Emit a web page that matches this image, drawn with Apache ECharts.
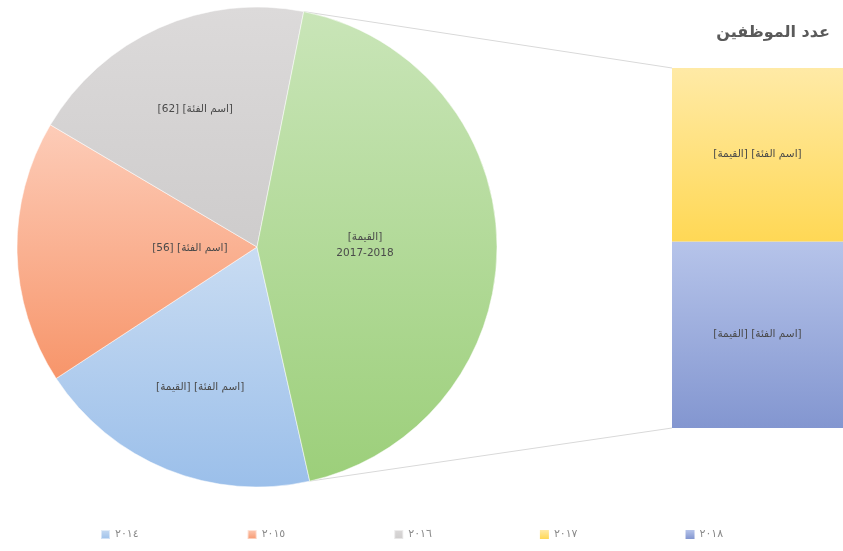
<!DOCTYPE html>
<html dir="rtl">
<head>
<meta charset="utf-8">
<script src="https://cdn.jsdelivr.net/npm/echarts@6/dist/echarts.min.js"></script>
<style>html,body{margin:0;padding:0;background:#fff;}#c{width:843px;height:551px;}</style>
</head>
<body>
<div id="c"></div>
<script>
// ---- data ----
const pieNames = ['٢٠١٤', '٢٠١٥', '٢٠١٦'];
const pieValues = [61, 56, 62];
const pieLabels = ['[اسم الفئة] [القيمة]', '[اسم الفئة] [56]', '[اسم الفئة] [62]'];
const otherName = '2017-2018';
const otherLabel = '[القيمة]\n2017-2018';
const barNames = ['٢٠١٧', '٢٠١٨'];
const barValues = [66, 71];
const barLabels = ['[اسم الفئة] [القيمة]', '[اسم الفئة] [القيمة]'];
const titleText = 'عدد الموظفين';

// ---- styling ----
const grad = (a, b) => new echarts.graphic.LinearGradient(0, 0, 0, 1, [{offset: 0, color: a}, {offset: 1, color: b}]);
const pieColors = [grad('#c9dcf2', '#9bbfea'), grad('#fdccb8', '#f7956a'), grad('#dcdada', '#cecccc'), grad('#c9e5b8', '#9ccf7a')];
const barColors = [grad('#ffeaa6', '#ffd855'), grad('#b6c4ea', '#8396d0')];
const labelRadiusFrac = [0.63, 0.28, 0.63, 0.45];
const CX = 257, CY = 247, R = 240;
const START = 282.7; // echarts startAngle (deg, ccw from 3 o'clock)

const otherValue = barValues.reduce((a, b) => a + b, 0);
const allPie = pieValues.concat([otherValue]);
const total = allPie.reduce((a, b) => a + b, 0);
const s0 = 90 - START; // clockwise from top
function cwAngleAt(cum) { return (s0 + 360 * cum / total) * Math.PI / 180; }
function pt(theta, r) { return [CX + r * Math.sin(theta), CY - r * Math.cos(theta)]; }

const pieData = pieNames.map((n, i) => ({name: n, value: pieValues[i], itemStyle: {color: pieColors[i]}, label: {formatter: pieLabels[i]}}));
pieData.push({name: otherName, value: otherValue, itemStyle: {color: pieColors[3]}, label: {formatter: otherLabel}});

const chart = echarts.init(document.getElementById('c'), null, {renderer: 'canvas'});
const font = 'DejaVu Sans, Noto Sans, sans-serif';

const option = {
  animation: false,
  title: {text: titleText, right: 8, top: 20, textStyle: {fontFamily: font, fontSize: 16, fontWeight: 'bold', color: '#5a5a5a'}},
  legend: {
    data: pieNames.concat(barNames),
    bottom: 6, left: 95, itemGap: 108, itemWidth: 9, itemHeight: 9, icon: 'rect',
    textStyle: {fontFamily: font, fontSize: 11, color: '#8a8a8a'}
  },
  grid: {left: 672, width: 176, top: 68, bottom: 123},
  xAxis: {type: 'category', data: ['a'], show: false},
  yAxis: {type: 'value', min: 0, max: otherValue, show: false},
  series: [
    {
      type: 'pie', center: [CX, CY], radius: R, startAngle: START, clockwise: true,
      data: pieData,
      itemStyle: {borderColor: 'rgba(255,255,255,0.5)', borderWidth: 1},
      label: {show: true, position: 'inside', color: '#4a4a4a', fontFamily: font, fontSize: 10.5, lineHeight: 16, align: 'center'},
      labelLine: {show: false},
      emphasis: {disabled: true},
      labelLayout: function (p) {
        const i = p.dataIndex;
        let cum = 0; for (let k = 0; k < i; k++) cum += allPie[k];
        const mid = cwAngleAt(cum + allPie[i] / 2);
        const q = pt(mid, R * labelRadiusFrac[i]);
        return {x: q[0], y: q[1], align: 'center', verticalAlign: 'middle'};
      }
    },
    {
      type: 'bar', name: barNames[1], stack: 's', data: [barValues[1]], barWidth: '100%',
      itemStyle: {color: barColors[1]},
      label: {show: true, position: 'inside', formatter: barLabels[1], color: '#4a4a4a', fontFamily: font, fontSize: 10.5}
    },
    {
      type: 'bar', name: barNames[0], stack: 's', data: [barValues[0]], barWidth: '100%',
      itemStyle: {color: barColors[0]},
      label: {show: true, position: 'inside', formatter: barLabels[0], color: '#4a4a4a', fontFamily: font, fontSize: 10.5}
    }
  ]
};
// legend colors for bar series
option.legend.data = pieNames.concat(barNames);
chart.setOption(option);

// connector lines from the combined slice to the bar
const topEdge = pt(cwAngleAt(total - otherValue), R);
const botEdge = pt(cwAngleAt(0), R);
const yTop = chart.convertToPixel({yAxisIndex: 0}, otherValue);
const yBot = chart.convertToPixel({yAxisIndex: 0}, 0);
const xLeft = 672;
chart.setOption({
  graphic: [
    {type: 'line', shape: {x1: topEdge[0], y1: topEdge[1], x2: xLeft, y2: yTop}, style: {stroke: '#d9d9d9', lineWidth: 1}, z: -1},
    {type: 'line', shape: {x1: botEdge[0], y1: botEdge[1], x2: xLeft, y2: yBot}, style: {stroke: '#d9d9d9', lineWidth: 1}, z: -1}
  ]
});
</script>
</body>
</html>
